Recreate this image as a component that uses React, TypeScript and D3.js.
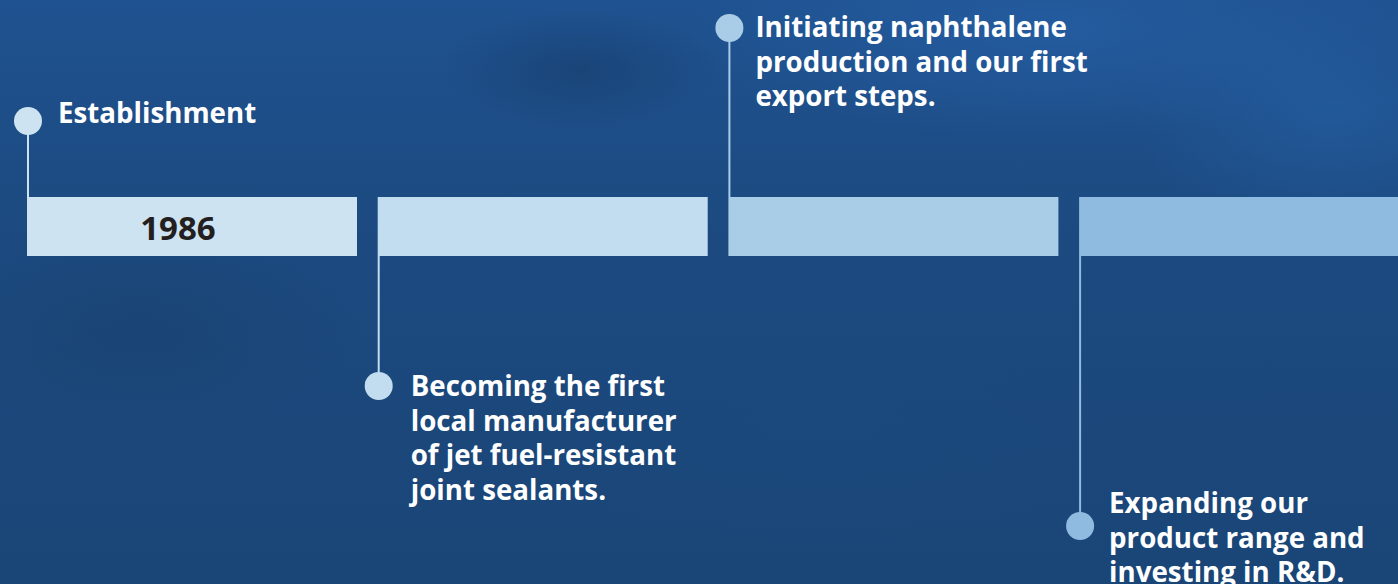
import React, { useEffect, useRef } from "react";
import * as d3 from "d3";

// timeline content
const eventIds = ["e1", "e2", "e3", "e4"];
const yearLabels = ["1986", "", "", ""];
const eventTexts = [
  ["Establishment"],
  ["Becoming the first", "local manufacturer", "of jet fuel-resistant", "joint sealants."],
  ["Initiating naphthalene", "production and our first", "export steps."],
  ["Expanding our", "product range and", "investing in R&D."],
];
const eventSides = ["above", "below", "above", "below"];
const barColors = ["#cde3f2", "#c2ddef", "#a9cde7", "#8fbbe0"];

const W = 1398;
const H = 584;
const FONT = "'Open Sans', sans-serif";

export default function App() {
  const ref = useRef<SVGSVGElement>(null);

  useEffect(() => {
    const svg = d3.select(ref.current);
    svg.selectAll("*").remove();

    const defs = svg.append("defs");
    const bg = defs.append("linearGradient").attr("id", "bg")
      .attr("x1", 0).attr("y1", 0).attr("x2", 0).attr("y2", 1);
    bg.append("stop").attr("offset", "0%").attr("stop-color", "#1f5290");
    bg.append("stop").attr("offset", "40%").attr("stop-color", "#1c4a80");
    bg.append("stop").attr("offset", "100%").attr("stop-color", "#1a4577");
    svg.append("rect").attr("width", W).attr("height", H).attr("fill", "url(#bg)");

    // soft background texture
    const blobs = [
      { cx: 1050, cy: 30, rx: 360, ry: 110, c: "#2660a6", o: 0.7 },
      { cx: 1330, cy: 110, rx: 200, ry: 120, c: "#2560a4", o: 0.6 },
      { cx: 580, cy: 70, rx: 140, ry: 60, c: "#163d6b", o: 0.6 },
      { cx: 140, cy: 330, rx: 220, ry: 110, c: "#183f6c", o: 0.5 },
      { cx: 820, cy: 430, rx: 320, ry: 120, c: "#1c4b80", o: 0.4 },
    ];
    blobs.forEach((b, i) => {
      const rg = defs.append("radialGradient").attr("id", `blob${i}`);
      rg.append("stop").attr("offset", "0%").attr("stop-color", b.c).attr("stop-opacity", b.o);
      rg.append("stop").attr("offset", "100%").attr("stop-color", b.c).attr("stop-opacity", 0);
    });
    svg.append("g")
      .selectAll("ellipse").data(blobs).join("ellipse")
      .attr("cx", d => d.cx).attr("cy", d => d.cy)
      .attr("rx", d => d.rx).attr("ry", d => d.ry)
      .attr("fill", (d, i) => `url(#blob${i})`);

    const barTop = 197;
    const barH = 59;
    const step = 350.7;
    const gap = 20.7;
    const x = d3.scaleBand<string>()
      .domain(eventIds)
      .range([27, 27 + step * eventIds.length - gap])
      .paddingInner(gap / step)
      .paddingOuter(0);
    const bw = x.bandwidth();

    const g = svg.append("g");

    g.selectAll("rect.bar").data(eventIds).join("rect")
      .attr("class", "bar")
      .attr("x", d => x(d)!)
      .attr("y", barTop)
      .attr("width", (d, i) => (i === eventIds.length - 1 ? W : bw))
      .attr("height", barH)
      .attr("fill", (d, i) => barColors[i]);

    g.selectAll("text.year").data(eventIds).join("text")
      .attr("class", "year")
      .attr("x", d => x(d)! + 151)
      .attr("y", barTop + 43)
      .attr("text-anchor", "middle")
      .attr("font-family", FONT)
      .attr("font-weight", 700)
      .attr("font-size", 33)
      .attr("fill", "#231f20")
      .text((d, i) => yearLabels[i]);

    // stem length from bar edge to dot, label offsets relative to dot
    const stem = [76, 130, 169, 270];
    const textDx = [30, 32, 26, 29];
    const textDy = [2, 10, 9, -13];
    const r = 14;
    const lineH = 34.7;

    eventIds.forEach((id, i) => {
      const cx = x(id)! + 1;
      const above = eventSides[i] === "above";
      const edge = above ? barTop : barTop + barH;
      const cy = above ? edge - stem[i] : edge + stem[i];
      g.append("line")
        .attr("x1", cx).attr("x2", cx)
        .attr("y1", edge).attr("y2", cy)
        .attr("stroke", barColors[i])
        .attr("stroke-width", 2);
      g.append("circle")
        .attr("cx", cx).attr("cy", cy).attr("r", r)
        .attr("fill", barColors[i]);

      const t = g.append("text")
        .attr("font-family", FONT)
        .attr("font-weight", 700)
        .attr("font-size", 27.7)
        .attr("fill", "#ffffff");
      eventTexts[i].forEach((s, j) => {
        t.append("tspan")
          .attr("x", cx + textDx[i])
          .attr("y", cy + textDy[i] + j * lineH)
          .text(s);
      });
    });
  }, []);

  return (
    <svg ref={ref} width={W} height={H} style={{ display: "block", position: "absolute", left: 0, top: 0 }} />
  );
}
